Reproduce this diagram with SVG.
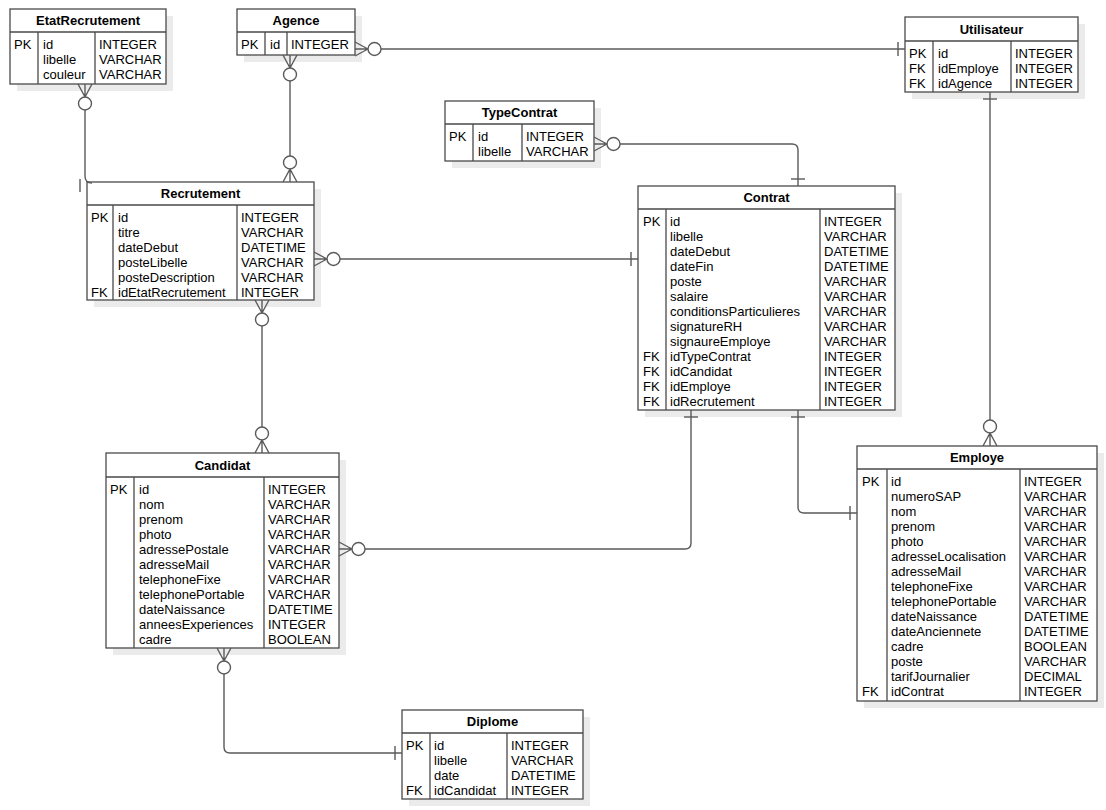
<svg xmlns="http://www.w3.org/2000/svg" xmlns:xlink="http://www.w3.org/1999/xlink" width="1106" height="810" viewBox="0 0 1106 810">
  <style>
    .shadow { fill: #ebebeb; stroke: none; }
    .box { fill: #ffffff; stroke: #4a4a4a; stroke-width: 1.3; }
    .div { stroke: #4a4a4a; stroke-width: 1.3; fill: none; }
    .title { font-family: "Liberation Sans", Arial, sans-serif; font-size: 13px; font-weight: bold; fill: #000; text-anchor: middle; }
    .txt { font-family: "Liberation Sans", Arial, sans-serif; font-size: 13px; fill: #000; }
    .conn { fill: none; stroke: #5a5a5a; stroke-width: 1.4; }
    .conn circle { fill: #ffffff; }
  </style>
  <defs>
    <!-- zero-or-many end: crow's foot at the entity edge, open circle beyond; points along +x -->
    <g id="zeroMany">
      <path d="M0,-7 L13,0 M0,7 L13,0 M0,0 H13"/>
      <circle cx="19.5" cy="0" r="6.5"/>
    </g>
    <!-- exactly-one end: single bar near the entity edge; points along +x -->
    <path id="one" d="M7,-7 V7"/>
  </defs>

  <rect width="1106" height="810" fill="#ffffff"/>

  <!-- EtatRecrutement -->
  <g id="EtatRecrutement">
    <rect class="shadow" x="17" y="16" width="156" height="75"/>
    <rect class="box" x="10" y="9" width="156" height="75"/>
    <path class="div" d="M10,32 H166 M38,32 V84 M95,32 V84"/>
    <text class="title" x="88" y="25">EtatRecrutement</text>
    <text class="txt" x="14" y="48.5">PK</text>
    <text class="txt" y="48.5"><tspan x="43">id</tspan><tspan x="43" dy="15">libelle</tspan><tspan x="43" dy="15">couleur</tspan></text>
    <text class="txt" y="48.5"><tspan x="99">INTEGER</tspan><tspan x="99" dy="15">VARCHAR</tspan><tspan x="99" dy="15">VARCHAR</tspan></text>
  </g>

  <!-- Agence -->
  <g id="Agence">
    <rect class="shadow" x="244" y="16" width="118" height="46"/>
    <rect class="box" x="237" y="9" width="118" height="46"/>
    <path class="div" d="M237,32 H355 M265,32 V55 M287,32 V55"/>
    <text class="title" x="296" y="25">Agence</text>
    <text class="txt" x="241" y="48.5">PK</text>
    <text class="txt" x="270" y="48.5">id</text>
    <text class="txt" x="291" y="48.5">INTEGER</text>
  </g>

  <!-- Utilisateur -->
  <g id="Utilisateur">
    <rect class="shadow" x="912" y="24" width="173" height="75"/>
    <rect class="box" x="905" y="17" width="173" height="75"/>
    <path class="div" d="M905,41 H1078 M933,41 V92 M1011,41 V92"/>
    <text class="title" x="991.5" y="33.5">Utilisateur</text>
    <text class="txt" y="57.5"><tspan x="909">PK</tspan><tspan x="909" dy="15">FK</tspan><tspan x="909" dy="15">FK</tspan></text>
    <text class="txt" y="57.5"><tspan x="938">id</tspan><tspan x="938" dy="15">idEmploye</tspan><tspan x="938" dy="15">idAgence</tspan></text>
    <text class="txt" y="57.5"><tspan x="1015">INTEGER</tspan><tspan x="1015" dy="15">INTEGER</tspan><tspan x="1015" dy="15">INTEGER</tspan></text>
  </g>

  <!-- TypeContrat -->
  <g id="TypeContrat">
    <rect class="shadow" x="452" y="108" width="149" height="60"/>
    <rect class="box" x="445" y="101" width="149" height="60"/>
    <path class="div" d="M445,124 H594 M473,124 V161 M522,124 V161"/>
    <text class="title" x="519.5" y="117">TypeContrat</text>
    <text class="txt" x="449" y="140.5">PK</text>
    <text class="txt" y="140.5"><tspan x="478">id</tspan><tspan x="478" dy="15">libelle</tspan></text>
    <text class="txt" y="140.5"><tspan x="526">INTEGER</tspan><tspan x="526" dy="15">VARCHAR</tspan></text>
  </g>

  <!-- Recrutement -->
  <g id="Recrutement">
    <rect class="shadow" x="94" y="189" width="227" height="118"/>
    <rect class="box" x="87" y="182" width="227" height="118"/>
    <path class="div" d="M87,205 H314 M113,205 V300 M237,205 V300"/>
    <text class="title" x="200.5" y="198">Recrutement</text>
    <text class="txt" y="221.5"><tspan x="91">PK</tspan><tspan x="91" dy="75">FK</tspan></text>
    <text class="txt" y="221.5"><tspan x="118">id</tspan><tspan x="118" dy="15">titre</tspan><tspan x="118" dy="15">dateDebut</tspan><tspan x="118" dy="15">posteLibelle</tspan><tspan x="118" dy="15">posteDescription</tspan><tspan x="118" dy="15">idEtatRecrutement</tspan></text>
    <text class="txt" y="221.5"><tspan x="241">INTEGER</tspan><tspan x="241" dy="15">VARCHAR</tspan><tspan x="241" dy="15">DATETIME</tspan><tspan x="241" dy="15">VARCHAR</tspan><tspan x="241" dy="15">VARCHAR</tspan><tspan x="241" dy="15">INTEGER</tspan></text>
  </g>

  <!-- Contrat -->
  <g id="Contrat">
    <rect class="shadow" x="645" y="193" width="257" height="224"/>
    <rect class="box" x="638" y="186" width="257" height="224"/>
    <path class="div" d="M638,209 H895 M666,209 V410 M820,209 V410"/>
    <text class="title" x="766.5" y="202">Contrat</text>
    <text class="txt" y="225.5"><tspan x="643">PK</tspan><tspan x="643" dy="135">FK</tspan><tspan x="643" dy="15">FK</tspan><tspan x="643" dy="15">FK</tspan><tspan x="643" dy="15">FK</tspan></text>
    <text class="txt" y="225.5"><tspan x="670">id</tspan><tspan x="670" dy="15">libelle</tspan><tspan x="670" dy="15">dateDebut</tspan><tspan x="670" dy="15">dateFin</tspan><tspan x="670" dy="15">poste</tspan><tspan x="670" dy="15">salaire</tspan><tspan x="670" dy="15">conditionsParticulieres</tspan><tspan x="670" dy="15">signatureRH</tspan><tspan x="670" dy="15">signaureEmploye</tspan><tspan x="670" dy="15">idTypeContrat</tspan><tspan x="670" dy="15">idCandidat</tspan><tspan x="670" dy="15">idEmploye</tspan><tspan x="670" dy="15">idRecrutement</tspan></text>
    <text class="txt" y="225.5"><tspan x="824">INTEGER</tspan><tspan x="824" dy="15">VARCHAR</tspan><tspan x="824" dy="15">DATETIME</tspan><tspan x="824" dy="15">DATETIME</tspan><tspan x="824" dy="15">VARCHAR</tspan><tspan x="824" dy="15">VARCHAR</tspan><tspan x="824" dy="15">VARCHAR</tspan><tspan x="824" dy="15">VARCHAR</tspan><tspan x="824" dy="15">VARCHAR</tspan><tspan x="824" dy="15">INTEGER</tspan><tspan x="824" dy="15">INTEGER</tspan><tspan x="824" dy="15">INTEGER</tspan><tspan x="824" dy="15">INTEGER</tspan></text>
  </g>

  <!-- Candidat -->
  <g id="Candidat">
    <rect class="shadow" x="113" y="460" width="233" height="195"/>
    <rect class="box" x="106" y="453" width="233" height="195"/>
    <path class="div" d="M106,477 H339 M134,477 V648 M264,477 V648"/>
    <text class="title" x="222.5" y="469.5">Candidat</text>
    <text class="txt" x="110" y="493.5">PK</text>
    <text class="txt" y="493.5"><tspan x="139">id</tspan><tspan x="139" dy="15">nom</tspan><tspan x="139" dy="15">prenom</tspan><tspan x="139" dy="15">photo</tspan><tspan x="139" dy="15">adressePostale</tspan><tspan x="139" dy="15">adresseMail</tspan><tspan x="139" dy="15">telephoneFixe</tspan><tspan x="139" dy="15">telephonePortable</tspan><tspan x="139" dy="15">dateNaissance</tspan><tspan x="139" dy="15">anneesExperiences</tspan><tspan x="139" dy="15">cadre</tspan></text>
    <text class="txt" y="493.5"><tspan x="268">INTEGER</tspan><tspan x="268" dy="15">VARCHAR</tspan><tspan x="268" dy="15">VARCHAR</tspan><tspan x="268" dy="15">VARCHAR</tspan><tspan x="268" dy="15">VARCHAR</tspan><tspan x="268" dy="15">VARCHAR</tspan><tspan x="268" dy="15">VARCHAR</tspan><tspan x="268" dy="15">VARCHAR</tspan><tspan x="268" dy="15">DATETIME</tspan><tspan x="268" dy="15">INTEGER</tspan><tspan x="268" dy="15">BOOLEAN</tspan></text>
  </g>

  <!-- Employe -->
  <g id="Employe">
    <rect class="shadow" x="864" y="453" width="240" height="255"/>
    <rect class="box" x="857" y="446" width="240" height="255"/>
    <path class="div" d="M857,469 H1097 M887,469 V701 M1020,469 V701"/>
    <text class="title" x="977" y="462">Employe</text>
    <text class="txt" y="485.5"><tspan x="862">PK</tspan><tspan x="862" dy="210">FK</tspan></text>
    <text class="txt" y="485.5"><tspan x="891">id</tspan><tspan x="891" dy="15">numeroSAP</tspan><tspan x="891" dy="15">nom</tspan><tspan x="891" dy="15">prenom</tspan><tspan x="891" dy="15">photo</tspan><tspan x="891" dy="15">adresseLocalisation</tspan><tspan x="891" dy="15">adresseMail</tspan><tspan x="891" dy="15">telephoneFixe</tspan><tspan x="891" dy="15">telephonePortable</tspan><tspan x="891" dy="15">dateNaissance</tspan><tspan x="891" dy="15">dateAnciennete</tspan><tspan x="891" dy="15">cadre</tspan><tspan x="891" dy="15">poste</tspan><tspan x="891" dy="15">tarifJournalier</tspan><tspan x="891" dy="15">idContrat</tspan></text>
    <text class="txt" y="485.5"><tspan x="1024">INTEGER</tspan><tspan x="1024" dy="15">VARCHAR</tspan><tspan x="1024" dy="15">VARCHAR</tspan><tspan x="1024" dy="15">VARCHAR</tspan><tspan x="1024" dy="15">VARCHAR</tspan><tspan x="1024" dy="15">VARCHAR</tspan><tspan x="1024" dy="15">VARCHAR</tspan><tspan x="1024" dy="15">VARCHAR</tspan><tspan x="1024" dy="15">VARCHAR</tspan><tspan x="1024" dy="15">DATETIME</tspan><tspan x="1024" dy="15">DATETIME</tspan><tspan x="1024" dy="15">BOOLEAN</tspan><tspan x="1024" dy="15">VARCHAR</tspan><tspan x="1024" dy="15">DECIMAL</tspan><tspan x="1024" dy="15">INTEGER</tspan></text>
  </g>

  <!-- Diplome -->
  <g id="Diplome">
    <rect class="shadow" x="409" y="717" width="181" height="89"/>
    <rect class="box" x="402" y="710" width="181" height="89"/>
    <path class="div" d="M402,733 H583 M430,733 V799 M507,733 V799"/>
    <text class="title" x="492.5" y="726">Diplome</text>
    <text class="txt" y="749.5"><tspan x="406">PK</tspan><tspan x="406" dy="45">FK</tspan></text>
    <text class="txt" y="749.5"><tspan x="434">id</tspan><tspan x="434" dy="15">libelle</tspan><tspan x="434" dy="15">date</tspan><tspan x="434" dy="15">idCandidat</tspan></text>
    <text class="txt" y="749.5"><tspan x="511">INTEGER</tspan><tspan x="511" dy="15">VARCHAR</tspan><tspan x="511" dy="15">DATETIME</tspan><tspan x="511" dy="15">INTEGER</tspan></text>
  </g>

  <!-- Relationships -->
  <g id="connectors" class="conn">
    <!-- Agence to Utilisateur -->
    <path d="M381,49 H905"/>
    <use xlink:href="#zeroMany" transform="translate(355,49)"/>
    <use xlink:href="#one" transform="translate(905,49) rotate(180)"/>

    <!-- Agence to Recrutement -->
    <path d="M290,81 V156"/>
    <use xlink:href="#zeroMany" transform="translate(290,55) rotate(90)"/>
    <use xlink:href="#zeroMany" transform="translate(290,182) rotate(-90)"/>

    <!-- EtatRecrutement to Recrutement -->
    <path d="M85,110 V176 Q85,183 92,183"/>
    <use xlink:href="#zeroMany" transform="translate(85,84) rotate(90)"/>
    <path d="M80,179 V192"/>

    <!-- Recrutement to Contrat -->
    <path d="M340,259 H638"/>
    <use xlink:href="#zeroMany" transform="translate(314,259)"/>
    <use xlink:href="#one" transform="translate(638,259) rotate(180)"/>

    <!-- Recrutement to Candidat -->
    <path d="M262,326 V427"/>
    <use xlink:href="#zeroMany" transform="translate(262,300) rotate(90)"/>
    <use xlink:href="#zeroMany" transform="translate(262,453) rotate(-90)"/>

    <!-- TypeContrat to Contrat -->
    <path d="M620,144 H792 Q798,144 798,150 V186"/>
    <use xlink:href="#zeroMany" transform="translate(594,144)"/>
    <use xlink:href="#one" transform="translate(798,186) rotate(-90)"/>

    <!-- Utilisateur to Employe -->
    <path d="M990,92 V420"/>
    <use xlink:href="#one" transform="translate(990,92) rotate(90)"/>
    <use xlink:href="#zeroMany" transform="translate(990,446) rotate(-90)"/>

    <!-- Contrat to Candidat -->
    <path d="M691,410 V543 Q691,549 685,549 H365"/>
    <use xlink:href="#one" transform="translate(691,410) rotate(90)"/>
    <use xlink:href="#zeroMany" transform="translate(339,549)"/>

    <!-- Contrat to Employe -->
    <path d="M798,410 V507 Q798,513 804,513 H857"/>
    <use xlink:href="#one" transform="translate(798,410) rotate(90)"/>
    <use xlink:href="#one" transform="translate(857,513) rotate(180)"/>

    <!-- Candidat to Diplome -->
    <path d="M224,674 V747 Q224,753 230,753 H402"/>
    <use xlink:href="#zeroMany" transform="translate(224,648) rotate(90)"/>
    <use xlink:href="#one" transform="translate(402,753) rotate(180)"/>
  </g>
</svg>
